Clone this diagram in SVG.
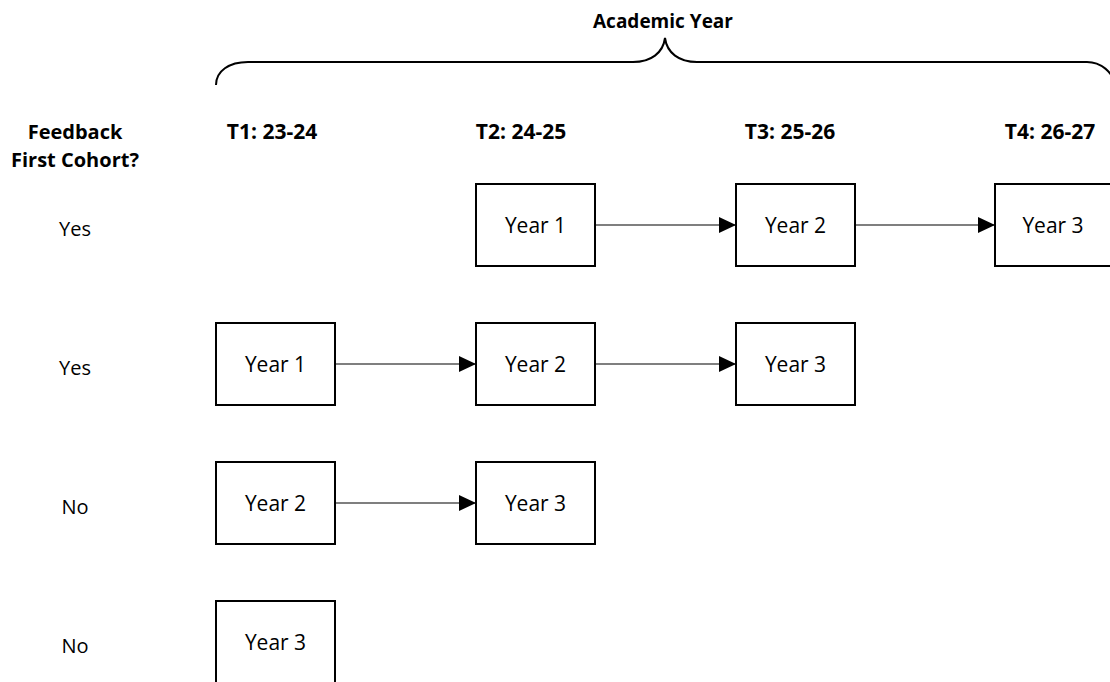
<svg xmlns="http://www.w3.org/2000/svg" width="1110" height="682" viewBox="0 0 1110 682">
<defs>
<style>
.hdr{font-family:"Open Sans","Liberation Sans",sans-serif;font-weight:bold;font-size:21px;fill:#000;text-anchor:middle}
.ttl{font-family:"Open Sans","Liberation Sans",sans-serif;font-weight:bold;font-size:19px;fill:#000;text-anchor:middle}
.fb{font-family:"Open Sans","Liberation Sans",sans-serif;font-weight:bold;font-size:20px;fill:#000;text-anchor:middle}
.lbl{font-family:"Open Sans","Liberation Sans",sans-serif;font-size:20px;fill:#000;text-anchor:middle}
.box{fill:#fff;stroke:#000;stroke-width:2}
.btxt{font-family:"Open Sans","Liberation Sans",sans-serif;font-size:21px;fill:#000;text-anchor:middle}
.conn{stroke:#000;stroke-width:1.2;fill:none;marker-end:url(#arr)}
</style>
<marker id="arr" markerUnits="userSpaceOnUse" markerWidth="18" markerHeight="16" refX="17" refY="8" orient="auto">
<path d="M0,0 L17,8 L0,16 Z" fill="#000"/>
</marker>
</defs>
<rect width="1110" height="682" fill="#fff"/>
<g id="title">
<text class="ttl" x="663" y="28">Academic Year</text>
<path d="M216,85 C216,71 229,62 248,62 L633,62 C651,62 663,53 665,38 C667,53 679,62 697,62 L1087,62 C1100,62 1114,72 1114,85" fill="none" stroke="#000" stroke-width="2"/>
</g>
<g id="headers">
<text class="fb" x="75" y="139">Feedback</text>
<text class="fb" x="75" y="167">First Cohort?</text>
<text class="hdr" x="272" y="139">T1: 23-24</text>
<text class="hdr" x="521" y="139">T2: 24-25</text>
<text class="hdr" x="790" y="139">T3: 25-26</text>
<text class="hdr" x="1050" y="139">T4: 26-27</text>
</g>
<g id="row-labels">
<text class="lbl" x="75" y="236">Yes</text>
<text class="lbl" x="75" y="375">Yes</text>
<text class="lbl" x="75" y="514">No</text>
<text class="lbl" x="75" y="653">No</text>
</g>
<g id="connectors">
<line class="conn" x1="595" y1="225" x2="736" y2="225"/>
<line class="conn" x1="855" y1="225" x2="995" y2="225"/>
<line class="conn" x1="335" y1="364" x2="476" y2="364"/>
<line class="conn" x1="595" y1="364" x2="736" y2="364"/>
<line class="conn" x1="335" y1="503" x2="476" y2="503"/>
</g>
<g id="r1-y1"><rect class="box" x="476" y="184" width="119" height="82"/><text class="btxt" x="535.5" y="233">Year 1</text></g>
<g id="r1-y2"><rect class="box" x="736" y="184" width="119" height="82"/><text class="btxt" x="795.5" y="233">Year 2</text></g>
<g id="r1-y3"><rect class="box" x="995" y="184" width="119" height="82"/><text class="btxt" x="1053" y="233">Year 3</text></g>
<g id="r2-y1"><rect class="box" x="216" y="323" width="119" height="82"/><text class="btxt" x="275.5" y="372">Year 1</text></g>
<g id="r2-y2"><rect class="box" x="476" y="323" width="119" height="82"/><text class="btxt" x="535.5" y="372">Year 2</text></g>
<g id="r2-y3"><rect class="box" x="736" y="323" width="119" height="82"/><text class="btxt" x="795.5" y="372">Year 3</text></g>
<g id="r3-y2"><rect class="box" x="216" y="462" width="119" height="82"/><text class="btxt" x="275.5" y="511">Year 2</text></g>
<g id="r3-y3"><rect class="box" x="476" y="462" width="119" height="82"/><text class="btxt" x="535.5" y="511">Year 3</text></g>
<g id="r4-y3"><rect class="box" x="216" y="601" width="119" height="82"/><text class="btxt" x="275.5" y="650">Year 3</text></g>
</svg>
